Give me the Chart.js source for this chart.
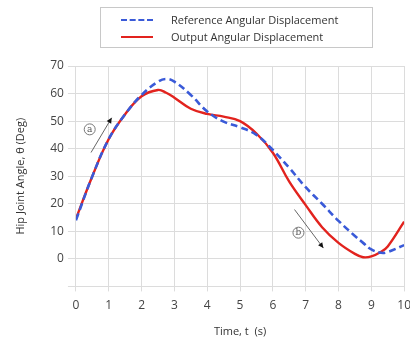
<!DOCTYPE html>
<html>
<head>
<meta charset="utf-8">
<script src="https://cdn.jsdelivr.net/npm/chart.js@4/dist/chart.umd.min.js"></script>
<style>
  html, body { margin: 0; padding: 0; background: #fff; overflow: hidden; }
  #wrap { position: relative; width: 418px; height: 342px; }
  #legend {
    position: absolute; left: 100px; top: 7px; width: 271px; height: 39px;
    border: 1px solid #c8c8c8; font-family: "Open Sans", sans-serif; font-size: 11px; color: #333;
  }
  .row { position: absolute; left: 0; height: 16px; line-height: 16px; }
  .row span.txt { position: absolute; left: 70px; white-space: nowrap; }
  .row span.smp { position: absolute; left: 20px; top: 7px; width: 32px; height: 0; }
</style>
</head>
<body>
<div id="wrap">
  <canvas id="hipChart" width="418" height="342"></canvas>
  <div id="legend">
    <div class="row" style="top:4px"><span class="smp" style="border-top:2px dashed #3a5ad8"></span><span class="txt">Reference Angular Displacement</span></div>
    <div class="row" style="top:21px"><span class="smp" style="border-top:2px solid #e2231e"></span><span class="txt">Output Angular Displacement</span></div>
  </div>
</div>
<script>
// time axis (s)
const times = [0, 0.5, 1, 1.5, 2, 2.5, 2.75, 3, 3.5, 4, 4.5, 5, 5.5, 6, 6.5, 7, 7.5, 8, 8.5, 8.75, 9, 9.3, 9.5, 10];
// reference hip angle (deg), blue dashed
const referenceAngle = [14, 30, 43.5, 52.5, 59.5, 64.3, 65.3, 64.3, 59.5, 53.5, 49.8, 47.8, 45, 39.5, 33, 26, 20, 13.8, 8.3, 5.8, 3.4, 2.2, 2.5, 5];
// output hip angle (deg), red solid
const outputAngle = [14.5, 30, 43.5, 52.5, 59, 61.3, 60.3, 58.5, 54.5, 52.6, 51.6, 50, 45.5, 38.5, 28, 19.5, 11.5, 5.8, 1.8, 0.6, 0.9, 2.6, 4.5, 13.5];
const xTicks = [0, 1, 2, 3, 4, 5, 6, 7, 8, 9, 10];
const yTicks = [-10, 0, 10, 20, 30, 40, 50, 60, 70];

// annotation arrows: [tStart, yStart, tEnd, yEnd, label, tLabel, yLabel]
const arrows = [
  [0.46, 38.6, 1.09, 51.2, 'a', 0.42, 47],
  [6.66, 17.9, 7.54, 3.9, 'b', 6.78, 9.5]
];

const annotate = {
  id: 'annotate',
  afterDatasetsDraw(chart) {
    const { ctx, scales: { x, y } } = chart;
    ctx.save();
    arrows.forEach(a => {
      const x1 = x.getPixelForValue(a[0]), y1 = y.getPixelForValue(a[1]);
      const x2 = x.getPixelForValue(a[2]), y2 = y.getPixelForValue(a[3]);
      ctx.strokeStyle = '#666';
      ctx.lineWidth = 1;
      ctx.beginPath(); ctx.moveTo(x1, y1); ctx.lineTo(x2, y2); ctx.stroke();
      const ang = Math.atan2(y2 - y1, x2 - x1);
      ctx.fillStyle = '#111';
      ctx.beginPath();
      ctx.moveTo(x2, y2);
      ctx.lineTo(x2 - 6 * Math.cos(ang - 0.45), y2 - 6 * Math.sin(ang - 0.45));
      ctx.lineTo(x2 - 6 * Math.cos(ang + 0.45), y2 - 6 * Math.sin(ang + 0.45));
      ctx.closePath(); ctx.fill();
      const cx = x.getPixelForValue(a[5]), cy = y.getPixelForValue(a[6]);
      ctx.strokeStyle = '#777';
      ctx.beginPath(); ctx.arc(cx, cy, 5.5, 0, Math.PI * 2); ctx.stroke();
      ctx.fillStyle = '#555';
      ctx.font = '9px "DejaVu Serif", serif';
      ctx.textAlign = 'center'; ctx.textBaseline = 'middle';
      ctx.fillText(a[4], cx, cy);
    });
    ctx.restore();
  }
};

const ctx = document.getElementById('hipChart').getContext('2d');
new Chart(ctx, {
  type: 'line',
  data: {
    datasets: [{
      label: 'Reference Angular Displacement',
      data: times.map((t, i) => ({ x: t, y: referenceAngle[i] })),
      borderColor: '#3a5ad8',
      borderWidth: 2.6,
      borderDash: [7, 4],
      pointRadius: 0,
      tension: 0.4
    }, {
      label: 'Output Angular Displacement',
      data: times.map((t, i) => ({ x: t, y: outputAngle[i] })),
      borderColor: '#e2231e',
      borderWidth: 2.4,
      pointRadius: 0,
      tension: 0.4
    }]
  },
  options: {
    responsive: false,
    animation: false,
    layout: { padding: { top: 66, left: 14, right: 0, bottom: 4 } },
    plugins: { legend: { display: false }, tooltip: { enabled: false } },
    scales: {
      x: {
        type: 'linear', min: 0, max: 10,
        afterBuildTicks: s => { s.ticks = xTicks.map(v => ({ value: v })); },
        ticks: { color: '#444', font: { family: 'Open Sans', size: 12 }, padding: 7 },
        grid: { color: '#dcdcdc', tickLength: 5 },
        border: { color: '#dcdcdc' },
        title: { display: true, text: 'Time, t  (s)', color: '#333', font: { family: 'Open Sans', size: 11 }, padding: { top: 5, bottom: 0 } }
      },
      y: {
        min: -10, max: 70,
        afterBuildTicks: s => { s.ticks = yTicks.map(v => ({ value: v })); },
        ticks: { color: '#444', font: { family: 'Open Sans', size: 12 }, padding: 4, callback: v => v === -10 ? '' : v },
        grid: { color: '#dcdcdc', tickLength: 8 },
        border: { color: '#dcdcdc' },
        title: { display: true, text: 'Hip Joint Angle, θ (Deg)', color: '#333', font: { family: 'Open Sans', size: 11 }, padding: { top: 0, bottom: 19 } }
      }
    }
  },
  plugins: [annotate]
});
</script>
</body>
</html>
